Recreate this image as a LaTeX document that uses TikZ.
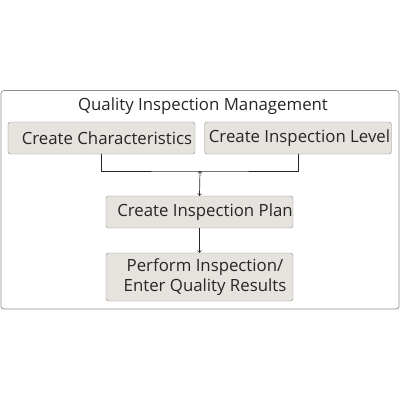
\documentclass[tikz,border=0pt]{standalone}
\usepackage{fontspec}
\setmainfont{Open Sans}
\usepackage{xcolor}
\usetikzlibrary{arrows}

\definecolor{cajafondo}{HTML}{E6E3DF}
\definecolor{cajaborde}{HTML}{8F8B86}
\definecolor{texto}{HTML}{262626}

\newcommand{\sangria}{\hspace*{11pt}}

\tikzset{
  tarea/.style={draw=cajaborde, fill=cajafondo, rounded corners=2.5pt, inner sep=0pt,
    minimum width=187pt, minimum height=32pt, text=texto, font=\fontsize{16.8}{19.5}\selectfont,
    align=center},
  linea/.style={draw=texto, line width=0.7pt},
  flecha/.style={linea, ->}
}

\begin{document}
\begin{tikzpicture}[x=1pt,y=-1pt]
    \useasboundingbox (0,0) rectangle (400,400);
    \draw[cajaborde, line width=0.7pt, rounded corners=3pt] (1,90.5) rectangle (399,309);

    \draw (203,106.5) node[text=texto, font=\fontsize{16.8}{19.5}\selectfont] (titulo) {Quality Inspection Management};
    \draw (101.5,138) node[tarea] (caract) {\sangria Create Characteristics};
    \draw (298,138) node[tarea] (nivel) {\hspace*{3pt}Create Inspection Level};
    \draw (199.5,212) node[tarea] (plan) {\sangria Create Inspection Plan};
    \draw (199.5,277) node[tarea, minimum height=48pt] (resultado) {\sangria Perform Inspection/\\\sangria Enter Quality Results};

    \coordinate (junta) at (200,171);

     \path[linea] (caract.south) |- (junta) -| (nivel.south);
     \path[flecha] (junta) edge (plan.north);
     \path[flecha] (plan) edge (resultado);

\end{tikzpicture}
\end{document}
